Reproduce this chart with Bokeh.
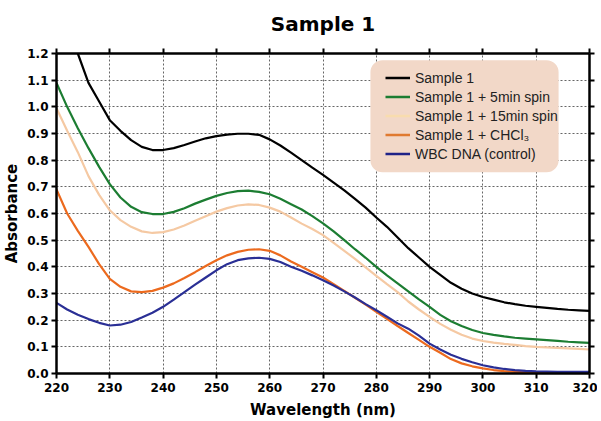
from bokeh.plotting import figure
from bokeh.models import (FixedTicker, PrintfTickFormatter, LinearAxis, Legend, LegendItem,
                          Range1d, CustomJSTickFormatter, BoxAnnotation)
from bokeh.embed import file_html
from bokeh.resources import INLINE

wavelength = list(range(220, 321, 2))

sample1 = [1.40, 1.30, 1.20, 1.09, 1.02, 0.95, 0.91, 0.875, 0.85, 0.838,
           0.838, 0.845, 0.857, 0.87, 0.882, 0.89, 0.896, 0.899, 0.899, 0.895,
           0.878, 0.855, 0.828, 0.800, 0.772, 0.745, 0.716, 0.687, 0.655, 0.622,
           0.585, 0.55, 0.51, 0.47, 0.435, 0.40, 0.37, 0.34, 0.318, 0.30,
           0.287, 0.277, 0.267, 0.26, 0.254, 0.25, 0.246, 0.242, 0.239, 0.237, 0.235]

spin5 = [1.09, 1.00, 0.92, 0.845, 0.775, 0.71, 0.66, 0.625, 0.605, 0.598,
         0.598, 0.606, 0.62, 0.637, 0.652, 0.666, 0.677, 0.684, 0.686, 0.681,
         0.672, 0.655, 0.635, 0.615, 0.59, 0.563, 0.533, 0.50, 0.466, 0.434,
         0.40, 0.368, 0.338, 0.308, 0.278, 0.25, 0.22, 0.196, 0.178, 0.163,
         0.152, 0.145, 0.139, 0.134, 0.131, 0.128, 0.125, 0.122, 0.119, 0.117, 0.115]

spin15 = [0.995, 0.91, 0.83, 0.74, 0.67, 0.612, 0.575, 0.55, 0.533, 0.527,
          0.53, 0.54, 0.555, 0.573, 0.59, 0.607, 0.62, 0.63, 0.634, 0.632,
          0.622, 0.607, 0.585, 0.562, 0.542, 0.519, 0.49, 0.46, 0.43, 0.398,
          0.366, 0.335, 0.305, 0.27, 0.24, 0.212, 0.186, 0.164, 0.145, 0.131,
          0.122, 0.116, 0.111, 0.107, 0.103, 0.10, 0.098, 0.096, 0.094, 0.092, 0.09]

chcl3 = [0.69, 0.60, 0.535, 0.475, 0.41, 0.355, 0.325, 0.308, 0.305, 0.31,
         0.322, 0.338, 0.358, 0.38, 0.403, 0.425, 0.443, 0.456, 0.464, 0.466,
         0.46, 0.443, 0.42, 0.40, 0.38, 0.36, 0.335, 0.31, 0.284, 0.258,
         0.231, 0.205, 0.178, 0.152, 0.126, 0.10, 0.078, 0.054, 0.038, 0.027,
         0.019, 0.013, 0.009, 0.006, 0.004, 0.003, 0.002, 0.001, 0.001, 0.0, 0.0]

wbc = [0.265, 0.24, 0.22, 0.204, 0.19, 0.18, 0.183, 0.193, 0.21, 0.228,
       0.25, 0.277, 0.305, 0.333, 0.36, 0.387, 0.41, 0.425, 0.432, 0.434,
       0.43, 0.418, 0.40, 0.385, 0.368, 0.35, 0.33, 0.308, 0.285, 0.26,
       0.237, 0.213, 0.188, 0.168, 0.142, 0.112, 0.09, 0.07, 0.055, 0.042,
       0.031, 0.023, 0.017, 0.013, 0.01, 0.008, 0.007, 0.006, 0.006, 0.006, 0.006]

series_names = ["Sample 1", "Sample 1 + 5min spin", "Sample 1 + 15min spin",
                "Sample 1 + CHCl\u2083", "WBC DNA (control)"]
series_values = [sample1, spin5, spin15, chcl3, wbc]
series_colors = ["#000000", "#1c7d32", "#f5c9a3", "#ec6a1e", "#2a2f95"]
legend_colors = ["#000000", "#1c7d32", "#f8dcae", "#e07a30", "#1f2288"]

x_ticks = [220, 230, 240, 250, 260, 270, 280, 290, 300, 310, 320]
y_ticks = [0.0, 0.1, 0.2, 0.3, 0.4, 0.5, 0.6, 0.7, 0.8, 0.9, 1.0, 1.1, 1.2]

p = figure(frame_width=533, frame_height=320, output_backend="svg", toolbar_location=None,
           x_range=Range1d(220, 320), y_range=Range1d(0, 1.2),
           min_border_left=50, min_border_right=8, min_border_top=8, min_border_bottom=8,
           title="Sample 1")
p.outline_line_color = None
p.background_fill_color = "white"
p.border_fill_color = "white"

p.title.align = "center"
p.title.vertical_align = "top"
p.title.text_font = "DejaVu Sans"
p.title.text_font_size = "20px"
p.title.text_font_style = "bold"
p.title.text_color = "#000000"
p.title.standoff = 22

def style_axis(ax, labels=True):
    ax.axis_line_width = 2.5
    ax.axis_line_color = "black"
    ax.major_tick_line_width = 2
    ax.major_tick_line_color = "black"
    ax.major_tick_out = 5
    ax.major_tick_in = 0
    ax.minor_tick_line_color = None
    ax.major_label_text_font = "DejaVu Sans"
    ax.major_label_text_font_style = "bold"
    ax.major_label_text_font_size = "12px"
    ax.major_label_text_color = "black"
    ax.axis_label_text_font = "DejaVu Sans"
    ax.axis_label_text_font_style = "bold"
    ax.axis_label_text_font_size = "15px"
    ax.axis_label_text_color = "black"
    if not labels:
        ax.formatter = CustomJSTickFormatter(code="return '';")
        ax.major_label_standoff = 0

p.xaxis.ticker = FixedTicker(ticks=x_ticks)
p.yaxis.ticker = FixedTicker(ticks=y_ticks)
p.yaxis.formatter = PrintfTickFormatter(format="%.1f")
p.xaxis.axis_label = "Wavelength (nm)"
p.yaxis.axis_label = "Absorbance"
p.xaxis.major_label_standoff = 4
p.yaxis.major_label_standoff = 3
p.xaxis.axis_label_standoff = 6
p.yaxis.axis_label_standoff = 3
style_axis(p.xaxis[0])
style_axis(p.yaxis[0])

top_axis = LinearAxis(ticker=FixedTicker(ticks=x_ticks))
right_axis = LinearAxis(ticker=FixedTicker(ticks=y_ticks))
style_axis(top_axis, labels=False)
style_axis(right_axis, labels=False)
p.add_layout(top_axis, "above")
p.add_layout(right_axis, "right")

for g in (p.xgrid[0], p.ygrid[0]):
    g.grid_line_color = "#555555"
    g.grid_line_dash = "2 2"
    g.grid_line_width = 1
    g.grid_line_alpha = 0.9
p.xgrid.ticker = FixedTicker(ticks=x_ticks[1:-1])
p.ygrid.ticker = FixedTicker(ticks=y_ticks[1:-1])

# legend background panel (rounded)
legend_bg = BoxAnnotation(left=278.9, right=314.2, top=1.175, bottom=0.755,
                          fill_color="#f2d8c8", fill_alpha=1.0, line_color=None,
                          border_radius=12, level="overlay")
p.add_layout(legend_bg)

for vals, col in zip(series_values, series_colors):
    p.line(wavelength, vals, line_color=col, line_width=2.2)

# legend glyph lines drawn off-range so that their colours can differ slightly
legend_items = []
for name, col in zip(series_names, legend_colors):
    lr = p.line([200, 201], [-1, -1], line_color=col, line_width=2.5)
    legend_items.append(LegendItem(label=name, renderers=[lr]))

legend = Legend(items=legend_items, location=(329, 210))
legend.background_fill_alpha = 0.0
legend.border_line_color = None
legend.label_text_font = "Liberation Sans"
legend.label_text_font_size = "14px"
legend.label_text_color = "#222222"
legend.glyph_width = 25
legend.glyph_height = 19
legend.label_height = 19
legend.label_standoff = 5
legend.spacing = 0
legend.padding = 0
legend.margin = 0
p.add_layout(legend, "center")

open("out.html", "w").write(file_html(p, INLINE))
